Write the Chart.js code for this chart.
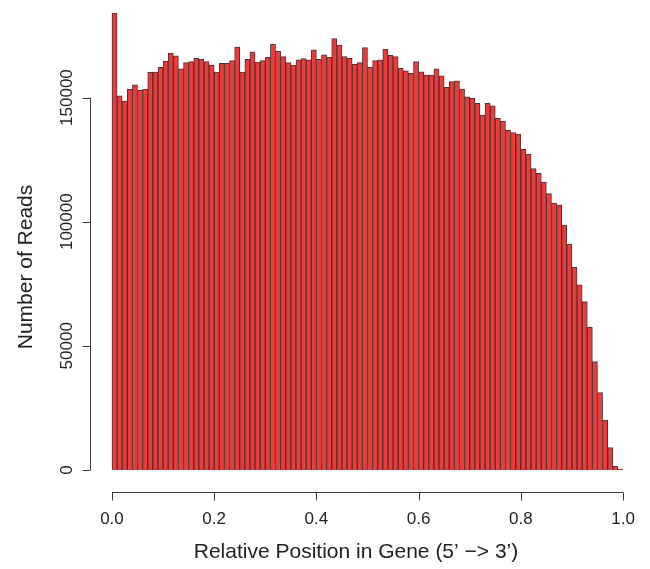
<!DOCTYPE html>
<html>
<head>
<meta charset="utf-8">
<title>Relative position of reads in gene</title>
<script src="https://cdn.jsdelivr.net/npm/chart.js@4.4.1/dist/chart.umd.min.js"></script>
<style>
  html, body { margin: 0; padding: 0; background: #ffffff; }
  #wrap { width: 650px; height: 569px; }
</style>
</head>
<body>
<div id="wrap"><canvas id="histChart" width="650" height="569"></canvas></div>
<script>
// histogram of read positions, 100 bins over 0..1 (5' -> 3')
const binWidth = 0.01;
const readCounts = [
  184000, 150700, 148600, 153300, 155100, 153000, 153400, 160200, 160300, 162200,
  164700, 167900, 166800, 161600, 164100, 164500, 165800, 165400, 164500, 163100,
  160300, 163800, 163800, 164900, 170300, 160300, 165400, 168400, 164300, 164900,
  166200, 171500, 168700, 166500, 164100, 163100, 165200, 165700, 165200, 169200,
  165400, 167200, 166200, 173800, 171100, 166500, 165800, 163400, 164100, 170100,
  162300, 164900, 165200, 169500, 167000, 166500, 161800, 160800, 159800, 164500,
  160400, 159100, 159100, 161600, 158800, 154100, 156400, 156700, 153400, 150300,
  149700, 147700, 142900, 147700, 146700, 141600, 140500, 136900, 135900, 135300,
  129100, 127100, 121400, 119500, 116000, 111300, 107500, 106800, 98600, 91000,
  81700, 74600, 67800, 57500, 43600, 31200, 20100, 9000, 1500, 200
];
const binMids = readCounts.map((_, i) => (i + 0.5) * binWidth);

const xTicks = [0, 0.2, 0.4, 0.6, 0.8, 1.0];
const xTickLabels = ['0.0', '0.2', '0.4', '0.6', '0.8', '1.0'];
const yTicks = [0, 50000, 100000, 150000];
const yTickLabels = ['0', '50000', '100000', '150000'];

const xTitle = 'Relative Position in Gene (5\u2019 \u2212> 3\u2019)';
const yTitle = 'Number of Reads';

const FONT = '"Liberation Sans", Arial, Helvetica, sans-serif';
const INK = '#222222';

// R style axes: detached lines that only span the tick range
const rAxes = {
  id: 'rAxes',
  afterDraw(chart) {
    const { ctx, chartArea } = chart;
    const x = chart.scales.x;
    const y = chart.scales.y;
    ctx.save();
    ctx.strokeStyle = '#3a3a3a';
    ctx.lineWidth = 1;
    ctx.fillStyle = INK;

    // x axis
    const ay = Math.round(chartArea.bottom) - 0.5;
    const x0 = x.getPixelForValue(xTicks[0]);
    const x1 = x.getPixelForValue(xTicks[xTicks.length - 1]);
    ctx.beginPath();
    ctx.moveTo(x0, ay);
    ctx.lineTo(x1, ay);
    xTicks.forEach(t => {
      const px = Math.round(x.getPixelForValue(t)) + 0.5;
      ctx.moveTo(px, ay);
      ctx.lineTo(px, ay + 8);
    });
    ctx.stroke();

    ctx.font = '17px ' + FONT;
    ctx.textAlign = 'center';
    ctx.textBaseline = 'middle';
    xTicks.forEach((t, i) => {
      ctx.fillText(xTickLabels[i], x.getPixelForValue(t), ay + 27);
    });

    ctx.font = '21px ' + FONT;
    ctx.fillText(xTitle, 356, ay + 60);

    // y axis
    const ax = Math.round(chartArea.left) + 0.5;
    const y0 = y.getPixelForValue(yTicks[0]);
    const y1 = y.getPixelForValue(yTicks[yTicks.length - 1]);
    ctx.beginPath();
    ctx.moveTo(ax, y0);
    ctx.lineTo(ax, y1);
    yTicks.forEach(t => {
      const py = Math.round(y.getPixelForValue(t)) + 0.5;
      ctx.moveTo(ax, py);
      ctx.lineTo(ax - 8, py);
    });
    ctx.stroke();

    ctx.font = '17px ' + FONT;
    yTicks.forEach((t, i) => {
      ctx.save();
      ctx.translate(ax - 23, y.getPixelForValue(t));
      ctx.rotate(-Math.PI / 2);
      ctx.fillText(yTickLabels[i], 0, 0);
      ctx.restore();
    });

    ctx.font = '21px ' + FONT;
    ctx.save();
    ctx.translate(26, 267);
    ctx.rotate(-Math.PI / 2);
    ctx.fillText(yTitle, 0, 0);
    ctx.restore();

    ctx.restore();
  }
};

const ctx = document.getElementById('histChart').getContext('2d');
new Chart(ctx, {
  type: 'bar',
  data: {
    datasets: [{
      label: 'Reads',
      data: binMids.map((m, i) => ({ x: m, y: readCounts[i] })),
      backgroundColor: '#ef3a3a',
      borderColor: '#4b3434',
      borderWidth: { top: 1, left: 1, right: 1, bottom: 0 },
      borderSkipped: false,
      barPercentage: 1,
      categoryPercentage: 1
    }]
  },
  options: {
    responsive: false,
    animation: false,
    devicePixelRatio: 1,
    layout: { padding: { left: 90, right: 5, top: 0, bottom: 76 } },
    plugins: {
      legend: { display: false },
      tooltip: { enabled: false },
      title: { display: false }
    },
    scales: {
      x: {
        type: 'linear',
        display: false,
        offset: false,
        min: -0.043,
        max: 1.043
      },
      y: {
        type: 'linear',
        display: false,
        min: -9300,
        max: 189300
      }
    }
  },
  plugins: [rAxes]
});
</script>
</body>
</html>
